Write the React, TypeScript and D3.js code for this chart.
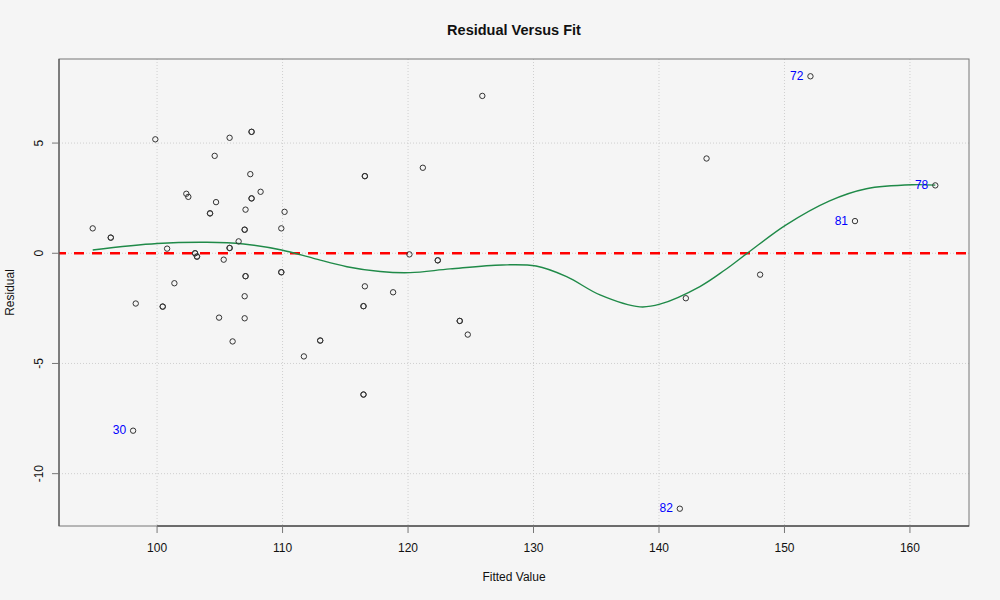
import React from "react";
import * as d3 from "d3";

const fitted = [
  94.87, 96.31, 96.31, 98.09, 98.3, 99.86, 100.45, 100.45, 100.8, 101.38, 102.33, 102.49,
  103.03, 103.03, 103.18, 103.18, 104.22, 104.22, 104.59, 104.7, 104.94, 105.31, 105.78,
  105.78, 105.78, 106.02, 106.5, 106.98, 106.98, 106.98, 106.98, 107.05, 107.05, 107.05,
  107.43, 107.53, 107.53, 107.53, 107.53, 108.25, 109.9, 109.9, 109.9, 110.16, 111.7,
  113.0, 113.0, 116.45, 116.45, 116.45, 116.45, 116.56, 116.56, 116.56, 118.81, 120.11,
  121.18, 122.37, 122.37, 124.12, 124.12, 124.76, 125.92, 141.66, 142.14, 143.79, 148.06,
  152.07, 155.62, 162.02,
];
const residual = [
  1.13, 0.71, 0.71, -8.05, -2.28, 5.17, -2.42, -2.42, 0.21, -1.36, 2.7, 2.56,
  0.0, 0.0, -0.15, -0.15, 1.81, 1.81, 4.42, 2.32, -2.92, -0.29, 5.24,
  0.24, 0.24, -4.0, 0.54, 1.07, 1.07, -1.95, -2.95, 1.98, -1.04, -1.04,
  3.59, 2.49, 2.49, 5.51, 5.51, 2.79, 1.13, -0.86, -0.86, 1.88, -4.68,
  -3.96, -3.96, -2.4, -2.4, -6.41, -6.41, 3.5, 3.5, -1.5, -1.77, -0.05,
  3.88, -0.32, -0.32, -3.07, -3.07, -3.69, 7.14, -11.59, -2.04, 4.3, -0.97,
  8.03, 1.46, 3.08,
];

const labelIds = ["30", "82", "72", "81", "78"];
const labelFitted = [98.09, 141.66, 152.07, 155.62, 162.02];
const labelResidual = [-8.05, -11.59, 8.03, 1.46, 3.08];

const smoothFitted = [
  94.87, 100.0, 103.98, 106.9, 109.92, 112.47, 115.13, 117.78, 120.17, 123.35, 127.5,
  130.2, 132.64, 135.3, 138.48, 140.07, 143.26, 145.25, 147.1, 150.1, 153.6, 156.53,
  160.24, 162.02,
];
const smoothResidual = [
  0.15, 0.44, 0.5, 0.42, 0.15, -0.23, -0.61, -0.83, -0.88, -0.71, -0.53,
  -0.58, -1.06, -1.89, -2.43, -2.31, -1.51, -0.76, 0.03, 1.28, 2.38, 2.93,
  3.11, 3.09,
];

const xTicks = [100, 110, 120, 130, 140, 150, 160];
const yTicks = [-10, -5, 0, 5];

const W = 1000;
const H = 600;
const L = 59;
const R = 969;
const T = 59;
const B = 526;
const FONT = "'Liberation Sans', Arial, Helvetica, sans-serif";

function extend(vals: number[]): [number, number] {
  const [a, b] = d3.extent(vals) as [number, number];
  const pad = (b - a) * 0.04;
  return [a - pad, b + pad];
}

export default function App() {
  const x = d3.scaleLinear().domain(extend(fitted)).range([L, R]);
  const y = d3.scaleLinear().domain(extend(residual)).range([B, T]);

  const smoothPts = smoothFitted.map((f, i) => [f, smoothResidual[i]] as [number, number]);
  const line = d3
    .line<[number, number]>()
    .x((d) => x(d[0]))
    .y((d) => y(d[1]))
    .curve(d3.curveCatmullRom.alpha(0.5));

  return (
    <svg
      width={W}
      height={H}
      style={{ position: "absolute", left: 0, top: 0, background: "#f5f5f5" }}
      fontFamily={FONT}
    >
      <rect x={0} y={0} width={W} height={H} fill="#f5f5f5" />
      {xTicks.map((t) => (
        <line key={"gx" + t} x1={x(t)} x2={x(t)} y1={T} y2={B} stroke="#cfcfcf" strokeDasharray="1,2" />
      ))}
      {yTicks.map((t) => (
        <line key={"gy" + t} x1={L} x2={R} y1={y(t)} y2={y(t)} stroke="#cfcfcf" strokeDasharray="1,2" />
      ))}
      <line x1={L} x2={R} y1={y(0)} y2={y(0)} stroke="#ff0000" strokeWidth={2.5} strokeDasharray="10,8" strokeDashoffset={3} />
      <path d={line(smoothPts) || ""} fill="none" stroke="#1f8a48" strokeWidth={1.4} />
      {fitted.map((f, i) => (
        <circle key={"p" + i} cx={x(f)} cy={y(residual[i])} r={2.7} fill="none" stroke="#333" strokeWidth={1} />
      ))}
      {labelIds.map((id, i) => (
        <text
          key={"l" + id}
          x={x(labelFitted[i]) - 7}
          y={y(labelResidual[i])}
          dy="0.3em"
          textAnchor="end"
          fontSize={12}
          fill="#0000ff"
        >
          {id}
        </text>
      ))}
      <rect x={L} y={T} width={R - L} height={B - T} fill="none" stroke="#777" strokeWidth={1} />
      <line x1={x(100)} x2={R} y1={B} y2={B} stroke="#222" strokeWidth={1} />
      <line x1={L} x2={L} y1={T} y2={B} stroke="#444" strokeWidth={1} />
      {xTicks.map((t) => (
        <g key={"xt" + t}>
          <line x1={x(t)} x2={x(t)} y1={B} y2={B + 7} stroke="#777" />
          <text x={x(t)} y={552} textAnchor="middle" fontSize={12} fill="#111">
            {t}
          </text>
        </g>
      ))}
      {yTicks.map((t) => (
        <g key={"yt" + t}>
          <line x1={L - 7} x2={L} y1={y(t)} y2={y(t)} stroke="#777" />
          <text
            transform={`translate(43,${y(t)}) rotate(-90)`}
            textAnchor="middle"
            fontSize={12}
            fill="#111"
          >
            {t}
          </text>
        </g>
      ))}
      <text x={(L + R) / 2} y={35} textAnchor="middle" fontSize={14.5} fontWeight="bold" fill="#111">
        Residual Versus Fit
      </text>
      <text x={(L + R) / 2} y={581} textAnchor="middle" fontSize={12} fill="#111">
        Fitted Value
      </text>
      <text transform={`translate(14,${(T + B) / 2}) rotate(-90)`} textAnchor="middle" fontSize={12} fill="#111">
        Residual
      </text>
    </svg>
  );
}
